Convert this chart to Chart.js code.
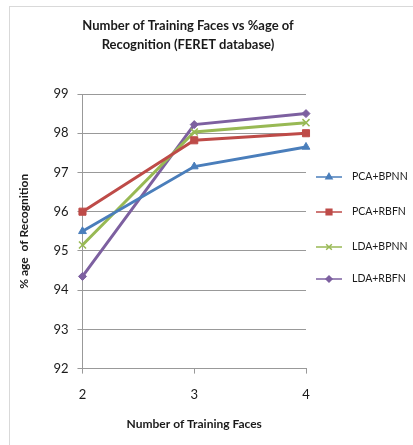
<!DOCTYPE html>
<html>
<head>
<meta charset="utf-8">
<script src="https://cdn.jsdelivr.net/npm/chart.js@4"></script>
<style>
  html, body { margin: 0; padding: 0; background: #fff; }
  #wrap { position: relative; width: 413px; height: 445px; overflow: hidden; }
  #frame { position: absolute; left: 9px; top: 6px; width: 420px; height: 450px; border: 1px solid #d9d9d9; box-sizing: border-box; }
  canvas { position: absolute; left: 0; top: 0; }
</style>
</head>
<body>
<div id="wrap">
  <div id="frame"></div>
  <canvas id="myChart" width="413" height="445"></canvas>
</div>
<script>
  // データ
  const faces = ["2", "3", "4"];
  const seriesNames = ["PCA+BPNN", "PCA+RBFN", "LDA+BPNN", "LDA+RBFN"];
  const pcaBpnn = [95.5, 97.15, 97.65];
  const pcaRbfn = [96.0, 97.82, 98.0];
  const ldaBpnn = [95.15, 98.03, 98.27];
  const ldaRbfn = [94.35, 98.22, 98.5];
  const titleLines = ["Number of Training Faces vs %age of", "Recognition (FERET database)"];

  const colors = ["#4a7ebb", "#be4b48", "#98b954", "#7d60a0"];
  const markers = ["triangle", "rect", "crossRot", "rectRot"];
  const radii = [4.5, 5, 5, 4];
  const values = [pcaBpnn, pcaRbfn, ldaBpnn, ldaRbfn];

  const font = "Lato, 'Open Sans', sans-serif";

  const datasets = seriesNames.map((name, i) => ({
    label: name,
    data: values[i],
    borderColor: colors[i],
    backgroundColor: colors[i],
    borderWidth: 3,
    pointStyle: markers[i],
    pointRadius: radii[i],
    pointBorderWidth: markers[i] === "crossRot" ? 1.5 : 1,
    tension: 0,
  }));

  // タイトルと凡例を自前で描く
  const extras = {
    id: "extras",
    afterDraw(chart) {
      const ctx = chart.ctx;
      ctx.save();
      ctx.fillStyle = "#1a1a1a";
      ctx.font = "bold 13px " + font;
      ctx.textAlign = "center";
      ctx.textBaseline = "middle";
      ctx.fillText(titleLines[0], 188, 26);
      ctx.fillText(titleLines[1], 188, 45);

      ctx.font = "10.5px " + font;
      ctx.textAlign = "left";
      const rows = [177, 212, 247, 279];
      chart.data.datasets.forEach((ds, i) => {
        const y = rows[i];
        ctx.strokeStyle = ds.borderColor;
        ctx.lineWidth = 1.5;
        ctx.beginPath();
        ctx.moveTo(316, y);
        ctx.lineTo(342, y);
        ctx.stroke();
        ctx.fillStyle = ds.backgroundColor;
        Chart.helpers.drawPoint(ctx, {
          pointStyle: ds.pointStyle,
          radius: ds.pointRadius - 1,
          rotation: 0,
          borderWidth: 1,
        }, 329, y);
        ctx.fillStyle = "#1a1a1a";
        ctx.fillText(ds.label, 352, y);
      });
      ctx.restore();
    },
  };

  const ctx = document.getElementById("myChart").getContext("2d");
  const myChart = new Chart(ctx, {
    type: "line",
    data: { labels: faces, datasets: datasets },
    options: {
      responsive: false,
      animation: false,
      layout: { padding: { left: 13, right: 107, top: 94, bottom: 10 } },
      plugins: {
        legend: { display: false },
        title: { display: false },
        tooltip: { enabled: false },
      },
      scales: {
        x: {
          offset: false,
          grid: { drawOnChartArea: false, color: "#999", tickLength: 5 },
          border: { color: "#999" },
          ticks: { color: "#1a1a1a", font: { family: font, size: 13, lineHeight: 1 }, padding: 15 },
          title: {
            display: true,
            text: "Number of Training Faces",
            color: "#1a1a1a",
            font: { family: font, size: 12, weight: "bold" },
            padding: { top: 0 },
          },
        },
        y: {
          min: 92,
          max: 99,
          grid: { color: "#999", tickLength: 5 },
          border: { color: "#999" },
          ticks: { stepSize: 1, color: "#1a1a1a", font: { family: font, size: 13 }, padding: 9 },
          title: {
            display: true,
            text: "% age  of Recognition",
            color: "#1a1a1a",
            font: { family: font, size: 12, weight: "bold" },
            padding: { bottom: 13 },
          },
        },
      },
    },
    plugins: [extras],
  });
</script>
</body>
</html>
